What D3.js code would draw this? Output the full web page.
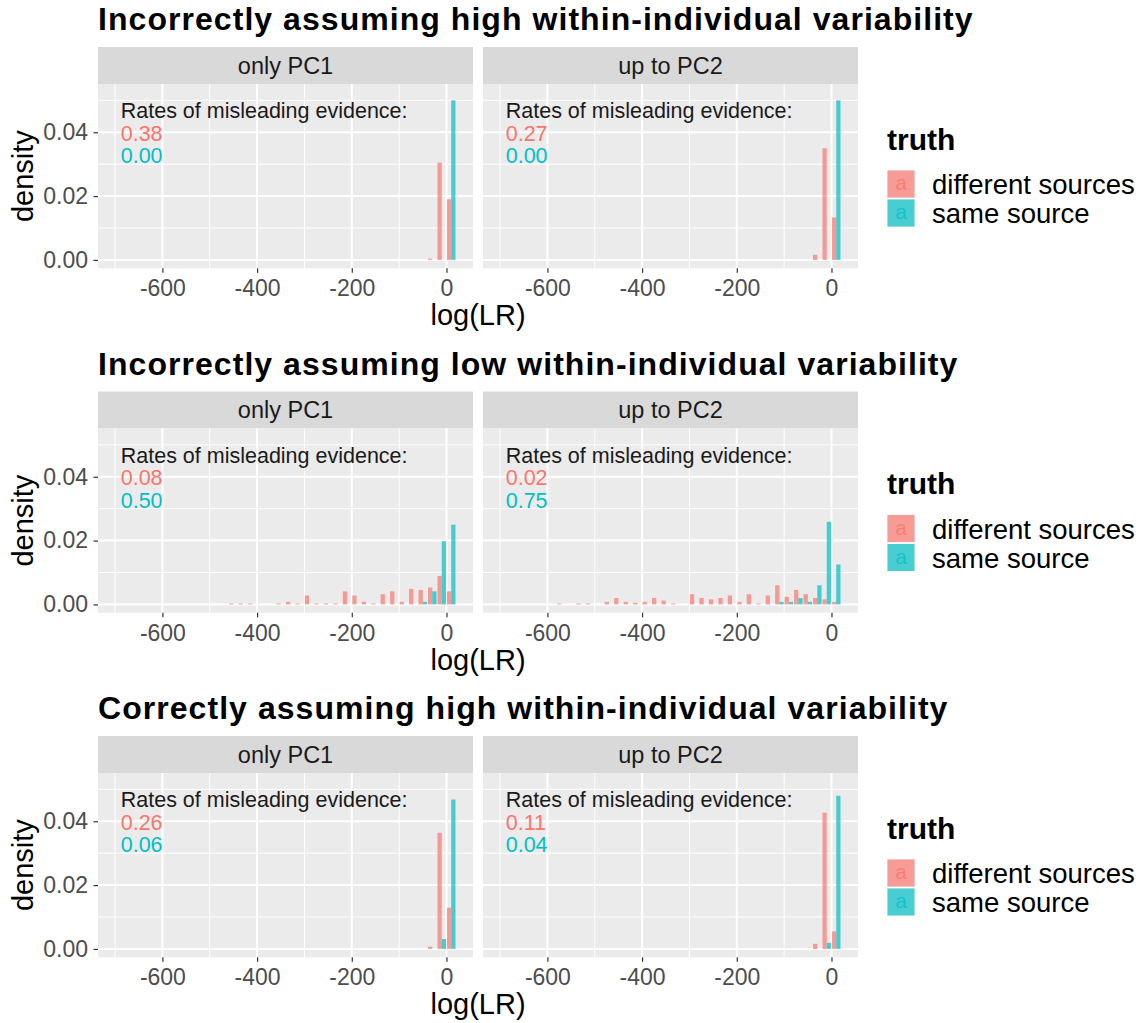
<!DOCTYPE html>
<head>
<meta charset="utf-8">
<style type="text/css">
  body { margin: 0; background: #ffffff; }
  text { font-family: "Liberation Sans", Arial, Helvetica, sans-serif; }
</style>
</head>
<body>
<div id="my_dataviz"></div>
<script src="https://d3js.org/d3.v7.min.js"></script>
<script type="text/javascript">

// ---- data ----
var rowTitles = [
  "Incorrectly assuming high within-individual variability",
  "Incorrectly assuming low within-individual variability",
  "Correctly assuming high within-individual variability"
];
var facets = ["only PC1", "up to PC2"];
var groups = ["different sources", "same source"];
var groupColors = ["#F8766D", "#00BFC4"];
var xTicks = [-600, -400, -200, 0];
var xMinor = [-700, -500, -300, -100];
var yTicks = [0, 0.02, 0.04];
var yMinor = [0.01, 0.03, 0.05];
var binWidth = 20;

// rates of misleading evidence, [different, same], per facet
var ratesHigh = [["0.38", "0.00"], ["0.27", "0.00"]];
var ratesLow = [["0.08", "0.50"], ["0.02", "0.75"]];
var ratesCorrect = [["0.26", "0.06"], ["0.11", "0.04"]];

// histogram bins: [lower edge of bin, density]
var highPC1Diff = [[-40, 0.0004], [-20, 0.0305], [0, 0.019]];
var highPC1Same = [[0, 0.05]];
var highPC2Diff = [[-40, 0.0016], [-20, 0.035], [0, 0.0133]];
var highPC2Same = [[0, 0.05]];

var lowPC1Diff = [[-460, 0.0003], [-440, 0.0003], [-420, 0.0003], [-360, 0.0003], [-340, 0.0008],
  [-320, 0.0003], [-300, 0.0028], [-280, 0.0003], [-260, 0.0003], [-240, 0.0003], [-220, 0.0041],
  [-200, 0.0028], [-180, 0.0008], [-160, 0.0003], [-140, 0.0032], [-120, 0.0041], [-100, 0.0008],
  [-80, 0.0049], [-60, 0.0045], [-40, 0.0053], [-20, 0.0089], [0, 0.0041]];
var lowPC1Same = [[-60, 0.0008], [-40, 0.0041], [-20, 0.0198], [0, 0.025]];
var lowPC2Diff = [[-580, 0.0003], [-540, 0.0003], [-520, 0.0003], [-480, 0.0008], [-460, 0.002],
  [-440, 0.0008], [-420, 0.0005], [-400, 0.0008], [-380, 0.002], [-360, 0.0012], [-340, 0.0003],
  [-300, 0.0032], [-280, 0.002], [-260, 0.0016], [-240, 0.002], [-220, 0.0028], [-200, 0.0008],
  [-180, 0.0032], [-160, 0.0003], [-140, 0.0028], [-120, 0.006], [-100, 0.0024], [-80, 0.0045],
  [-60, 0.0032], [-40, 0.002], [-20, 0.0016], [0, 0.0008]];
var lowPC2Same = [[-120, 0.0008], [-100, 0.0008], [-80, 0.002], [-60, 0.0008], [-40, 0.006],
  [-20, 0.0259], [0, 0.0125]];

var corrPC1Diff = [[-40, 0.0007], [-20, 0.0364], [0, 0.0129]];
var corrPC1Same = [[-20, 0.0031], [0, 0.0468]];
var corrPC2Diff = [[-40, 0.0016], [-20, 0.0427], [0, 0.0055]];
var corrPC2Same = [[-20, 0.0019], [0, 0.048]];

var rows = [
  { title: rowTitles[0], rates: ratesHigh, bins: [[highPC1Diff, highPC1Same], [highPC2Diff, highPC2Same]] },
  { title: rowTitles[1], rates: ratesLow, bins: [[lowPC1Diff, lowPC1Same], [lowPC2Diff, lowPC2Same]] },
  { title: rowTitles[2], rates: ratesCorrect, bins: [[corrPC1Diff, corrPC1Same], [corrPC2Diff, corrPC2Same]] }
];

// ---- layout ----
var W = 1144, H = 1023;
var rowStep = 344.5;
var panelLeft = [98, 483], panelW = 375;
var stripTop = 47, stripH = 37;
var panelTop = stripTop + stripH, panelH = 184.3;

var svg = d3.select("#my_dataviz")
  .append("svg")
    .attr("width", W)
    .attr("height", H)
    .style("background", "#ffffff");

var x = d3.scaleLinear().domain([-736, 56]).range([0, panelW]);
var y = d3.scaleLinear().domain([-0.002625, 0.055125]).range([panelH, 0]);

rows.forEach(function (row, r) {
  var g = svg.append("g").attr("transform", "translate(0," + (r * rowStep) + ")");

  // title
  g.append("text")
    .attr("x", 98).attr("y", 30)
    .style("font-size", "32px").style("font-weight", "bold")
    .style("letter-spacing", "1.05px")
    .text(row.title);

  facets.forEach(function (facet, f) {
    var px = panelLeft[f];

    // strip
    g.append("rect")
      .attr("x", px).attr("y", stripTop).attr("width", panelW).attr("height", stripH)
      .attr("fill", "#D9D9D9");
    g.append("text")
      .attr("x", px + panelW / 2).attr("y", stripTop + stripH / 2)
      .attr("dy", "0.36em").attr("text-anchor", "middle")
      .style("font-size", "23.5px").style("fill", "#1A1A1A")
      .text(facet);

    var p = g.append("g").attr("transform", "translate(" + px + "," + panelTop + ")");

    p.append("rect").attr("width", panelW).attr("height", panelH).attr("fill", "#EBEBEB");

    // grid
    p.selectAll(".xminor").data(xMinor).enter().append("line")
      .attr("x1", d => x(d)).attr("x2", d => x(d)).attr("y1", 0).attr("y2", panelH)
      .attr("stroke", "#fff").attr("stroke-width", 1);
    p.selectAll(".yminor").data(yMinor).enter().append("line")
      .attr("x1", 0).attr("x2", panelW).attr("y1", d => y(d)).attr("y2", d => y(d))
      .attr("stroke", "#fff").attr("stroke-width", 1);
    p.selectAll(".xmajor").data(xTicks).enter().append("line")
      .attr("x1", d => x(d)).attr("x2", d => x(d)).attr("y1", 0).attr("y2", panelH)
      .attr("stroke", "#fff").attr("stroke-width", 2);
    p.selectAll(".ymajor").data(yTicks).enter().append("line")
      .attr("x1", 0).attr("x2", panelW).attr("y1", d => y(d)).attr("y2", d => y(d))
      .attr("stroke", "#fff").attr("stroke-width", 2);

    // dodged histogram bars
    row.bins[f].forEach(function (bins, gi) {
      p.append("g").selectAll("rect").data(bins).enter().append("rect")
        .attr("x", function (d) {
          var x0 = x(d[0]), w = x(d[0] + binWidth) - x0;
          return x0 + w * (0.05 + 0.45 * gi);
        })
        .attr("width", function (d) { return (x(d[0] + binWidth) - x(d[0])) * 0.45; })
        .attr("y", d => y(d[1]))
        .attr("height", d => y(0) - y(d[1]))
        .attr("fill", groupColors[gi])
        .attr("fill-opacity", 0.7);
    });

    // annotation, one text per line
    var annLines = ["Rates of misleading evidence:", row.rates[f][0], row.rates[f][1]];
    var annColors = ["#1A1A1A", groupColors[0], groupColors[1]];
    p.selectAll(".ann").data(annLines).enter().append("text")
      .attr("x", x(-688))
      .attr("y", (d, i) => 34 + i * 22.5)
      .style("font-size", "21.5px")
      .style("fill", (d, i) => annColors[i])
      .text(d => d);

    // x axis
    var xa = p.append("g")
      .attr("transform", "translate(0," + panelH + ")")
      .call(d3.axisBottom(x).tickValues(xTicks).tickFormat(d => String(d)).tickSize(4.5).tickPadding(7));
    xa.select(".domain").remove();
    xa.selectAll("line").attr("stroke", "#333333").attr("stroke-width", 1.2);
    xa.selectAll("text").style("font-size", "23px").style("fill", "#4D4D4D")
      .style("font-family", "'Liberation Sans', Arial, sans-serif");

    // y axis only on first facet
    if (f === 0) {
      var ya = p.append("g")
        .call(d3.axisLeft(y).tickValues(yTicks).tickFormat(d3.format(".2f")).tickSize(4.5).tickPadding(5.5));
      ya.select(".domain").remove();
      ya.selectAll("line").attr("stroke", "#333333").attr("stroke-width", 1.2);
      ya.selectAll("text").style("font-size", "23px").style("fill", "#4D4D4D")
        .style("font-family", "'Liberation Sans', Arial, sans-serif");
    }
  });

  // axis titles
  g.append("text")
    .attr("x", (panelLeft[0] + panelLeft[1] + panelW) / 2).attr("y", 325)
    .attr("text-anchor", "middle").style("font-size", "29px")
    .text("log(LR)");
  g.append("text")
    .attr("transform", "translate(33," + (panelTop + panelH / 2) + ") rotate(-90)")
    .attr("text-anchor", "middle").style("font-size", "29px")
    .text("density");

  // legend
  var lg = g.append("g").attr("transform", "translate(887,0)");
  lg.append("text").attr("x", 0).attr("y", 149.5)
    .style("font-size", "30px").style("font-weight", "bold")
    .text("truth");
  groups.forEach(function (name, gi) {
    var ky = 170 + gi * 29;
    lg.append("rect").attr("x", 0).attr("y", ky).attr("width", 28).attr("height", 28)
      .attr("fill", "#F2F2F2");
    lg.append("rect").attr("x", 0.5).attr("y", ky + 0.5).attr("width", 27).attr("height", 27)
      .attr("fill", groupColors[gi]).attr("fill-opacity", 0.7);
    lg.append("text").attr("x", 14).attr("y", ky + 14).attr("dy", "0.3em")
      .attr("text-anchor", "middle").style("font-size", "21px")
      .style("fill", groupColors[gi]).style("fill-opacity", 0.75)
      .text("a");
    lg.append("text").attr("x", 45).attr("y", ky + 24)
      .style("font-size", "27.5px").style("fill", "#000")
      .text(name);
  });
});

</script>
</body>
